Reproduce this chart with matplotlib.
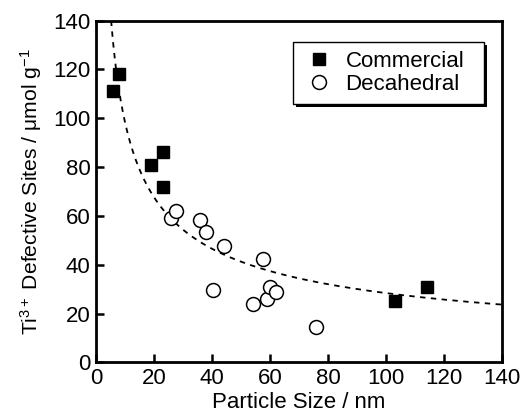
import numpy as np
import matplotlib
matplotlib.use('Agg')
import matplotlib.pyplot as plt
from matplotlib.patches import Rectangle

plt.rcParams['font.family'] = ['Liberation Sans', 'DejaVu Sans']
plt.rcParams['mathtext.fontset'] = 'custom'
plt.rcParams['mathtext.rm'] = 'Liberation Sans'
plt.rcParams['mathtext.it'] = 'Liberation Sans:italic'

# ==================== データ ====================
commercial_size = [6, 8, 19, 23, 23, 103, 114]
commercial_sites = [111, 118, 81, 86, 72, 25, 31]

deca_size = [26, 27.5, 36, 38, 44, 57.7, 40.5, 54, 59, 60, 62, 76]
deca_sites = [59, 62, 58.5, 53.5, 47.5, 42.5, 29.5, 24, 26, 31, 29, 14.5]

# フィット曲線 y = A * x^B
fit_A = 340.0
fit_B = -0.539

x_ticks = [0, 20, 40, 60, 80, 100, 120, 140]
y_ticks = [0, 20, 40, 60, 80, 100, 120, 140]

# ==================== グラフ ====================
fig = plt.figure(figsize=(5.25, 4.2), dpi=100)
ax = fig.add_axes([0.183, 0.137, 0.773, 0.814])

xf = np.linspace(4.5, 140, 400)
ax.plot(xf, fit_A * xf ** fit_B, color='black', linestyle=(0, (3, 3)), linewidth=1.3, zorder=1)

ax.plot(commercial_size, commercial_sites, linestyle='none', marker='s', markersize=9,
        color='black', label='Commercial', zorder=3)
ax.plot(deca_size, deca_sites, linestyle='none', marker='o', markersize=10,
        markerfacecolor='white', markeredgecolor='black', markeredgewidth=1.1,
        label='Decahedral', zorder=2)

ax.set_xlim(0, 140)
ax.set_ylim(0, 140)
ax.set_xticks(x_ticks)
ax.set_yticks(y_ticks)
ax.tick_params(direction='in', length=6, width=1.8, labelsize=16, pad=4,
               top=False, right=False)
for s in ax.spines.values():
    s.set_linewidth(2)

ax.set_xlabel('Particle Size / nm', fontsize=16, labelpad=2)
ax.set_ylabel('Ti$^{3+}$ Defective Sites / \u03bcmol g$^{-1}$', fontsize=15.2, labelpad=7)

# 凡例枠（影付き）
box_x0, box_y0, box_w, box_h = 0.4845, 0.7554, 0.4712, 0.1823
ax.add_patch(Rectangle((box_x0 + 0.0075, box_y0 - 0.009), box_w, box_h, transform=ax.transAxes,
                       facecolor='black', edgecolor='none', zorder=4))
ax.add_patch(Rectangle((box_x0, box_y0), box_w, box_h, transform=ax.transAxes,
                       facecolor='white', edgecolor='black', linewidth=1.0, zorder=5))

leg = ax.legend(loc='center', bbox_to_anchor=(box_x0 + box_w / 2, box_y0 + box_h / 2),
                borderaxespad=0, borderpad=0, fontsize=16, frameon=False,
                handletextpad=0.9, handlelength=0.6, labelspacing=0.1)
leg.set_zorder(6)

fig.savefig('out.png', dpi=100)
